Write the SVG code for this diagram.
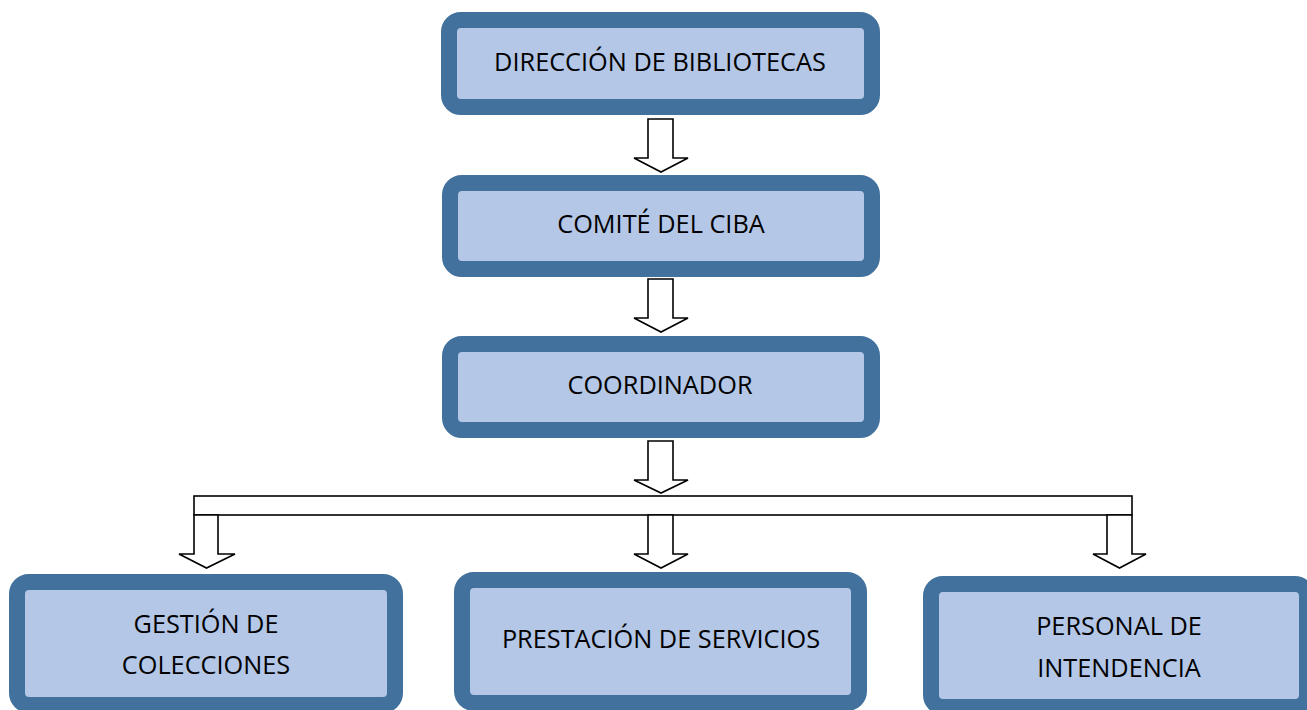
<svg xmlns="http://www.w3.org/2000/svg" width="1307" height="710" viewBox="0 0 1307 710">
<style>
.box{fill:#B4C7E7;stroke:#41719C;stroke-width:16}
.t{font-family:"Open Sans","Liberation Sans",sans-serif;font-size:25.3px;fill:#000;text-anchor:middle}
.arr{fill:#fff;stroke:#000;stroke-width:1.6;stroke-linejoin:miter}
</style>
<rect width="1307" height="710" fill="#fff"/>
<g id="connectors">
<polygon class="arr" points="648,119 673,119 673,158 688,158 661,172 634,158 648,158"/>
<polygon class="arr" points="648,279 673,279 673,318 688,318 661,332 634,318 648,318"/>
<polygon class="arr" points="648,441 673,441 673,480 688,480 661,493 634,480 648,480"/>
<rect class="arr" x="194" y="496" width="938" height="19"/>
<polygon class="arr" points="194,515 218,515 218,554 235,554 206.5,568 179,554 194,554"/>
<polygon class="arr" points="648,515 673,515 673,554 688,554 661,568 634,554 648,554"/>
<polygon class="arr" points="1107,515 1132,515 1132,554 1146,554 1119.5,568 1093,554 1107,554"/>
</g>
<g id="n1">
<rect class="box" x="449" y="20" width="423" height="87" rx="12"/>
<text class="t" x="660" y="71">DIRECCIÓN DE BIBLIOTECAS</text>
</g>
<g id="n2">
<rect class="box" x="450" y="183" width="422" height="86" rx="12"/>
<text class="t" x="661" y="233">COMITÉ DEL CIBA</text>
</g>
<g id="n3">
<rect class="box" x="450" y="344" width="422" height="86" rx="12"/>
<text class="t" x="660" y="394">COORDINADOR</text>
</g>
<g id="n4">
<rect class="box" x="17" y="582" width="378" height="123" rx="12"/>
<text class="t" x="206" y="633">GESTIÓN DE</text>
<text class="t" x="206" y="674">COLECCIONES</text>
</g>
<g id="n5">
<rect class="box" x="462" y="580" width="397" height="123" rx="12"/>
<text class="t" x="661" y="648">PRESTACIÓN DE SERVICIOS</text>
</g>
<g id="n6">
<rect class="box" x="931" y="584" width="376" height="123" rx="12"/>
<text class="t" x="1119" y="635">PERSONAL DE</text>
<text class="t" x="1119" y="677">INTENDENCIA</text>
</g>
</svg>
